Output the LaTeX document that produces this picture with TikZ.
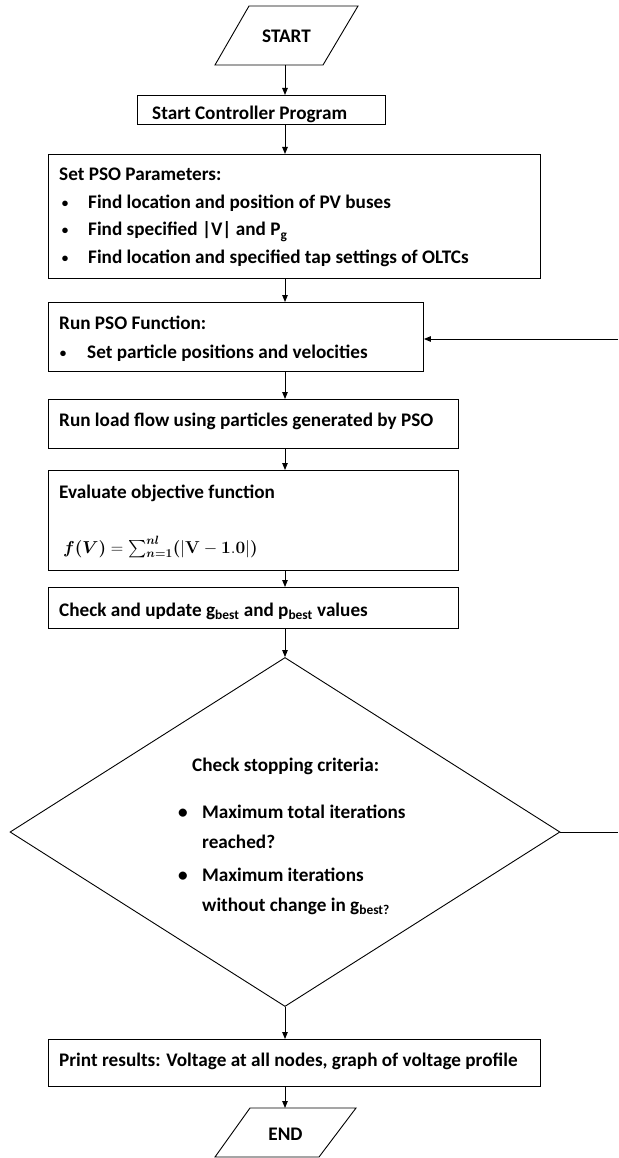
\documentclass[tikz,border=0pt]{standalone}
\usepackage{amsmath}
\usepackage[no-math]{fontspec}
\setmainfont{Carlito}
\usetikzlibrary{arrows.meta,shapes.geometric}
\newcommand{\objfun}{{\fontsize{17}{19}\selectfont$\boldsymbol{f(V)}=\boldsymbol{\sum}_{\boldsymbol{n=1}}^{\boldsymbol{nl}}\boldsymbol{(}\lvert\mathbf{V}-\mathbf{1.0}\rvert\boldsymbol{)}$}}
\newcommand{\smbul}{{\fontsize{13}{13}\selectfont\textbullet}}
\begin{document}
\begin{tikzpicture}[x=1pt,y=-1pt,
  font=\fontsize{19.2}{22}\selectfont\bfseries,
  box/.style={draw, line width=0.9pt, inner sep=0pt, anchor=north west},
  ttl/.style={inner sep=0pt},
  lbl/.style={anchor=base west, inner sep=0pt},
  bul/.style={anchor=base, inner sep=0pt},
  arr/.style={-{Triangle[length=7pt,width=5.5pt]}, line width=0.9pt},
  ln/.style={line width=0.9pt}]
\useasboundingbox (0,0) rectangle (618,1158);
\coordinate (sp) at (285,0);
% start / end (parallelograms)
\draw[ln] (249,6) -- (358,6) -- (323,65) -- (215,65) -- cycle;
\node[ttl] (start) at (286.5,36) {START};
\coordinate (startb) at (285,65);
\draw[ln] (250,1108) -- (356,1108) -- (319,1157) -- (215,1157) -- cycle;
\node[ttl] (end) at (285.5,1134) {END};
\coordinate (endt) at (285,1108);
% boxes
\node[box, minimum width=248pt, minimum height=29pt] (scp) at (137,95) {};
\node[box, minimum width=492pt, minimum height=124pt] (setpso) at (48,154) {};
\node[box, minimum width=375pt, minimum height=69pt] (runpso) at (48,302) {};
\node[box, minimum width=410pt, minimum height=49pt] (lf) at (48,399) {};
\node[box, minimum width=410pt, minimum height=100pt] (ev) at (48,470) {};
\node[box, minimum width=410pt, minimum height=41pt] (chk) at (48,587) {};
\node[draw, line width=0.9pt, diamond, inner sep=0pt, minimum width=550pt, minimum height=349pt] (dia) at (285,832) {};
\node[box, minimum width=492pt, minimum height=47pt] (pr) at (48,1039) {};
% texts
\node[lbl] (t1) at (152,120) {Start Controller Program};
\node[lbl] (t2) at (59,181) {Set PSO Parameters:};
\node[bul] (b1) at (65,208) {\smbul};
\node[lbl] (t3) at (88,209) {Find location and position of PV buses};
\node[bul] (b2) at (65,235) {\smbul};
\node[lbl] (t4) at (88,236) {Find specified |V| and P\textsubscript{g}};
\node[bul] (b3) at (65,262) {\smbul};
\node[lbl] (t5) at (88,263) {Find location and specified tap settings of OLTCs};
\node[lbl] (t6) at (59,329) {Run PSO Function:};
\node[bul] (b4) at (63,357) {\smbul};
\node[lbl] (t7) at (87,358) {Set particle positions and velocities};
\node[lbl] (t8) at (59,426) {Run load flow using particles generated by PSO};
\node[lbl] (t9) at (59,498) {Evaluate objective function};
\node[lbl] (t10) at (63,553) {\objfun};
\node[lbl] (t11) at (59,616) {Check and update g\textsubscript{best} and p\textsubscript{best} values};
\node[lbl] (t12) at (192,771) {Check stopping criteria:};
\node[bul] (b5) at (183,818) {\textbullet};
\node[lbl] (t13) at (202,818) {Maximum total iterations};
\node[lbl] (t14) at (202,848) {reached?};
\node[bul] (b6) at (183,881) {\textbullet};
\node[lbl] (t15) at (202,881) {Maximum iterations};
\node[lbl] (t16) at (202,911) {without change in g\textsubscript{best?}};
\node[lbl] (t17) at (59,1066) {Print results: Voltage at all nodes, graph of voltage profile};
% connectors
\draw[arr] (startb) -- (scp.north -| sp);
\draw[arr] (scp.south -| sp) -- (setpso.north -| sp);
\draw[arr] (setpso.south -| sp) -- (runpso.north -| sp);
\draw[arr] (runpso.south -| sp) -- (lf.north -| sp);
\draw[arr] (lf.south -| sp) -- (ev.north -| sp);
\draw[arr] (ev.south -| sp) -- (chk.north -| sp);
\draw[arr] (chk.south -| sp) -- (dia.north);
\draw[arr] (dia.south) -- (pr.north -| sp);
\draw[arr] (pr.south -| sp) -- (endt);
\coordinate (r1) at (618,832);
\coordinate (r2) at (618,339);
\draw[ln] (dia.east) -- (r1);
\draw[arr] (r2) -- (r2 -| runpso.east);
\end{tikzpicture}
\end{document}
